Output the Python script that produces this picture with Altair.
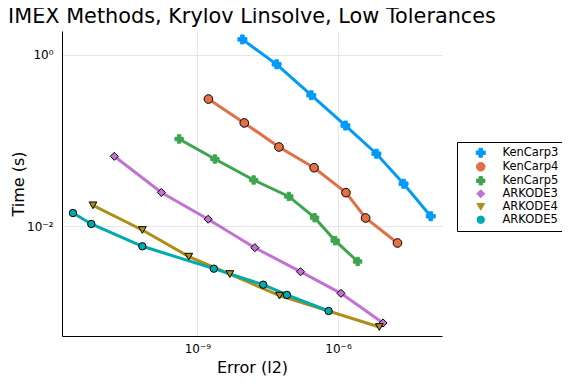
import altair as alt
import pandas as pd
import math

series_names = ["KenCarp3", "KenCarp4", "KenCarp5", "ARKODE3", "ARKODE4", "ARKODE5"]
colors = ["#009AFA", "#E36F47", "#3EA44E", "#C371D2", "#AC8E18", "#00AAAE"]
shapes = ["cross", "circle", "cross", "diamond", "triangle-down", "circle"]
outline = ["#009AFA", "black", "#3EA44E", "black", "black", "black"]
marker_sizes = [80, 55, 80, 72, 62, 55]

kc3_err = [10**-8.04, 10**-7.31, 10**-6.57, 10**-5.84, 10**-5.18, 10**-4.60, 10**-4.02]
kc3_time = [1.52, 0.778, 0.339, 0.150, 0.0704, 0.0314, 0.0131]

kc4_err = [10**-8.765, 10**-8.00, 10**-7.26, 10**-6.51, 10**-5.83, 10**-5.41, 10**-4.73]
kc4_time = [0.306, 0.161, 0.0843, 0.0483, 0.0247, 0.0125, 0.00638]

kc5_err = [10**-9.391, 10**-8.628, 10**-7.80, 10**-7.05, 10**-6.50, 10**-6.06, 10**-5.58]
kc5_time = [0.1045, 0.0610, 0.0347, 0.0223, 0.0126, 0.00679, 0.00388]

ark3_err = [10**-10.774, 10**-9.769, 10**-8.771, 10**-7.774, 10**-6.80, 10**-5.936, 10**-5.038]
ark3_time = [0.0656, 0.0248, 0.0121, 0.00562, 0.00295, 0.00165, 0.000743]

ark4_err = [10**-11.229, 10**-10.175, 10**-9.184, 10**-8.308, 10**-7.248, 10**-5.118]
ark4_time = [0.01758, 0.00905, 0.00442, 0.00277, 0.00155, 0.000667]

ark5_err = [10**-11.656, 10**-11.265, 10**-10.175, 10**-8.650, 10**-7.596, 10**-7.09, 10**-6.20]
ark5_time = [0.01429, 0.01064, 0.00584, 0.0032, 0.00208, 0.00158, 0.001026]

x_tick_vals = [1e-9, 1e-6]
x_tick_labels = ["10⁻⁹", "10⁻⁶"]
y_tick_vals = [1.0, 1e-2]
y_tick_labels = ["10⁰", "10⁻²"]

all_err = [kc3_err, kc4_err, kc5_err, ark3_err, ark4_err, ark5_err]
all_time = [kc3_time, kc4_time, kc5_time, ark3_time, ark4_time, ark5_time]

rows = []
for si, (name, errs, times) in enumerate(zip(series_names, all_err, all_time)):
    for i, (e, t) in enumerate(zip(errs, times)):
        rows.append({"method": name, "order": si, "idx": i, "err": e, "time": t})
df = pd.DataFrame(rows)


def label_expr(vals, labels):
    expr = "''"
    for v, l in zip(vals, labels):
        expr = f"abs(log(datum.value)/LN10 - ({math.log10(v)})) < 0.01 ? '{l}' : " + expr
    return expr


axis_common = dict(grid=True, gridColor="#e6e6e6", gridWidth=1, domainColor="black",
                   domainWidth=1, ticks=False, labelFontSize=12, titleFontSize=16,
                   labelColor="black", titleColor="black", titleFontWeight="normal",
                   labelFont="DejaVu Sans", titleFont="DejaVu Sans")

x = alt.X("err:Q", title="Error (l2)",
          scale=alt.Scale(type="log", domain=[10**-11.89, 10**-3.78], nice=False, zero=False),
          axis=alt.Axis(values=x_tick_vals, labelExpr=label_expr(x_tick_vals, x_tick_labels),
                        labelPadding=7, titlePadding=5, **axis_common))
y = alt.Y("time:Q", title="Time (s)",
          scale=alt.Scale(type="log", domain=[10**-3.281, 10**0.28], nice=False, zero=False),
          axis=alt.Axis(values=y_tick_vals, labelExpr=label_expr(y_tick_vals, y_tick_labels),
                        labelPadding=9, titlePadding=0, **axis_common))

legend = alt.Legend(title=None, orient="none", legendX=395, legendY=111,
                    strokeColor="black", fillColor="white", padding=5,
                    labelFontSize=11.5, labelFont="DejaVu Sans", labelColor="black",
                    symbolStrokeWidth=1, symbolOffset=13, labelOffset=16,
                    rowPadding=0, cornerRadius=0)

color = alt.Color("method:N", scale=alt.Scale(domain=series_names, range=colors), legend=legend)
shape = alt.Shape("method:N", scale=alt.Scale(domain=series_names, range=shapes), legend=legend)
stroke = alt.Stroke("method:N", scale=alt.Scale(domain=series_names, range=outline), legend=legend)
size = alt.Size("method:N", scale=alt.Scale(domain=series_names, range=marker_sizes), legend=legend)

lines = alt.Chart(df).mark_line(strokeWidth=3).encode(
    x=x, y=y, color=color, detail="method:N", order="idx:Q")

pts = alt.Chart(df).mark_point(filled=True, opacity=1, strokeWidth=1).encode(
    x=x, y=y, color=color, shape=shape, stroke=stroke, size=size)

chart = alt.layer(lines, pts).properties(
    width=380, height=305,
    title=alt.TitleParams("IMEX Methods, Krylov Linsolve, Low Tolerances", fontSize=20.8,
                          font="DejaVu Sans", fontWeight="normal", anchor="middle", color="black",
                          offset=3),
    autosize=alt.AutoSizeParams(type="none"),
    padding={"left": 54, "top": 23, "right": 120, "bottom": 40},
).configure_view(stroke=None).resolve_scale(color="shared", shape="shared")

chart.save("out.html", embed_options={"renderer": "svg", "actions": False})
